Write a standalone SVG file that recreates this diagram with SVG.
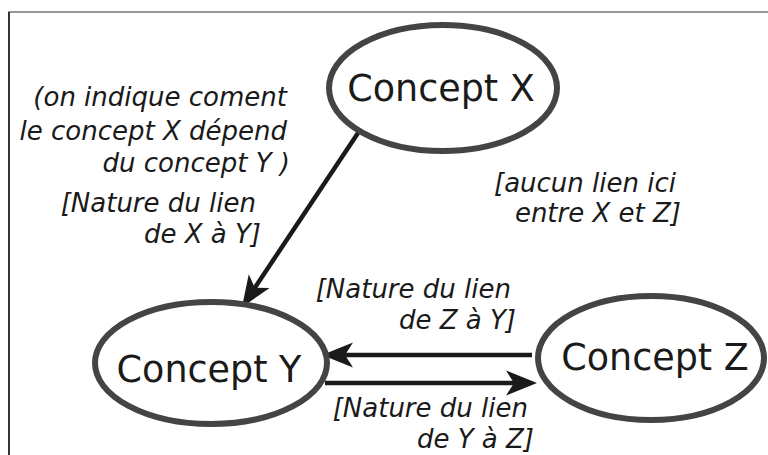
<svg xmlns="http://www.w3.org/2000/svg" width="768" height="455" viewBox="0 0 768 455">
<style>
.node{fill:#fff;stroke:#444;stroke-width:6}
.nt{font-family:"DejaVu Sans",Verdana,sans-serif;font-size:36.5px;fill:#1a1a1a;text-anchor:middle}
.lbl{font-family:"DejaVu Sans",Verdana,sans-serif;font-size:26px;font-style:italic;fill:#1a1a1a;text-anchor:end}
.edge{stroke:#1a1a1a;stroke-width:4.5;fill:none;marker-end:url(#ah)}
</style>
<defs>
<marker id="ah" markerUnits="userSpaceOnUse" viewBox="-20 -16 40 32" refX="0" refY="0" markerWidth="40" markerHeight="32" orient="auto" overflow="visible">
<path d="M15,0 L-16,-12.5 L-8,0 L-16,12.5 Z" fill="#1a1a1a"/>
</marker>
</defs>
<rect width="768" height="455" fill="#fff"/>
<g id="frame">
<line x1="8" y1="12" x2="768" y2="12" stroke="#777" stroke-width="1.6"/>
<line x1="9" y1="12" x2="9" y2="455" stroke="#333" stroke-width="2"/>
</g>
<g id="edges">
<line class="edge" x1="358" y1="133" x2="250.3" y2="294.5"/>
<line class="edge" x1="532" y1="355" x2="337" y2="355"/>
<line class="edge" x1="325" y1="383" x2="522" y2="383"/>
</g>
<g id="conceptX">
<ellipse class="node" cx="443" cy="88" rx="114" ry="63"/>
<text class="nt" x="441" y="101">Concept X</text>
</g>
<g id="conceptY">
<ellipse class="node" cx="211" cy="363" rx="116" ry="61"/>
<text class="nt" x="209" y="382">Concept Y</text>
</g>
<g id="conceptZ">
<ellipse class="node" cx="651" cy="358" rx="113" ry="62"/>
<text class="nt" x="655" y="370">Concept Z</text>
</g>
<g id="labels">
<text class="lbl" x="287" y="106">(on indique coment</text>
<text class="lbl" x="287" y="140">le concept X dépend</text>
<text class="lbl" x="290" y="172">du concept Y )</text>
<text class="lbl" x="256" y="212">[Nature du lien</text>
<text class="lbl" x="261" y="243">de X à Y]</text>
<text class="lbl" x="676" y="192">[aucun lien ici</text>
<text class="lbl" x="681" y="222">entre X et Z]</text>
<text class="lbl" x="511" y="298">[Nature du lien</text>
<text class="lbl" x="516" y="329">de Z à Y]</text>
<text class="lbl" x="528" y="417">[Nature du lien</text>
<text class="lbl" x="534" y="448">de Y à Z]</text>
</g>
</svg>
